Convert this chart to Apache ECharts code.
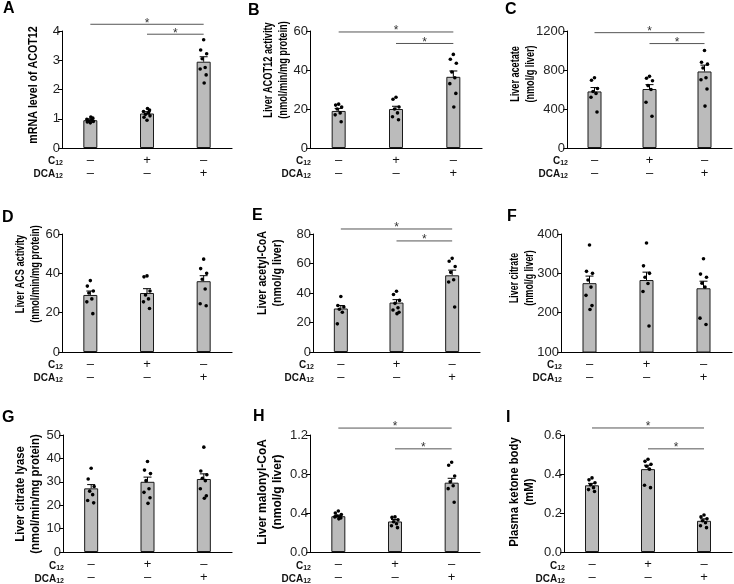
<!DOCTYPE html>
<html><head><meta charset="utf-8">
<script src="https://cdn.jsdelivr.net/npm/echarts@6/dist/echarts.min.js"></script>
<style>html,body{margin:0;padding:0;background:#fff}#c{width:734px;height:584px}</style>
</head><body><div id="c"></div>
<script>
// ---------- data ----------
const categories = ['Control', 'C12', 'DCA12'];
const c12Signs = ['–', '+', '–'];
const dca12Signs = ['–', '–', '+'];

// A: mRNA level of ACOT12
const meanA = [0.95, 1.18, 2.95];
const semA = [0.05, 0.06, 0.17];
const dotsA = [[0.86, 0.89, 0.91, 0.93, 0.95, 0.98, 1.02, 1.06], [0.95, 1.05, 1.1, 1.15, 1.2, 1.25, 1.3, 1.35], [3.7, 3.35, 3.22, 3.05, 2.75, 2.7, 2.5, 2.22]];
const sigA = [[0, 4.23, 2], [1, 3.89, 2]];
const ticksA = [0, 1, 2, 3, 4];

// B: Liver ACOT12 activity
const meanB = [19, 20, 36.5];
const semB = [1.3, 1.4, 3.0];
const dotsB = [[22.5, 22, 21, 20, 18, 17, 13.5], [26, 25, 21, 20, 18, 16, 14.5], [48, 45.5, 43.5, 39, 36, 33, 28, 21]];
const sigB = [[0, 59.5, 2], [1, 53.6, 2]];
const ticksB = [0, 20, 40, 60];

// C: Liver acetate
const meanC = [580, 605, 785];
const semC = [40, 45, 65];
const dotsC = [[720, 695, 610, 580, 560, 520, 370], [735, 715, 690, 640, 600, 470, 325], [1000, 880, 860, 820, 720, 700, 605, 430]];
const sigC = [[0, 1183, 2], [1, 1071, 2]];
const ticksC = [0, 400, 800, 1200];

// D: Liver ACS activity
const meanD = [29, 30, 36];
const semD = [2, 2.2, 2.8];
const dotsD = [[36.3, 33.5, 31, 30, 27, 25.5, 19.5], [38.7, 38.2, 31, 29, 27, 25.5, 22.1], [47.2, 42.4, 40, 37, 32, 24.5, 23.5]];
const sigD = [];
const ticksD = [0, 20, 40, 60];

// E: Liver acetyl-CoA
const meanE = [29.5, 33.5, 52];
const semE = [2, 2, 3.5];
const dotsE = [[37.6, 31.5, 30.5, 29, 27, 19.1], [41.2, 39, 35, 33, 30, 28.5, 27, 26], [63.5, 61.5, 58, 54, 49, 47.5, 30.5]];
const sigE = [[0, 83.4, 2], [1, 75.3, 2]];
const ticksE = [0, 20, 40, 60, 80];

// F: Liver citrate
const meanF = [275, 283, 262];
const semF = [18, 20, 18];
const dotsF = [[372, 305, 300, 283, 265, 244, 218, 208], [377, 319, 300, 290, 274, 254, 166], [337, 298, 290, 275, 265, 186, 170]];
const sigF = [];
const ticksF = [100, 200, 300, 400];

// G: Liver citrate lyase
const meanG = [27.2, 30, 31.2];
const semG = [1.6, 2, 2.2];
const dotsG = [[35.8, 31.2, 28, 26, 24.5, 22, 21], [38.7, 35, 33.5, 30.5, 27, 25.5, 23.2, 20.8], [44.8, 34.6, 33, 31.5, 30.5, 27, 24, 23]];
const sigG = [];
const ticksG = [0, 10, 20, 30, 40, 50];

// H: Liver malonyl-CoA
const meanH = [0.367, 0.313, 0.711];
const semH = [0.012, 0.02, 0.045];
const dotsH = [[0.42, 0.40, 0.385, 0.37, 0.36, 0.36, 0.35, 0.34], [0.36, 0.355, 0.33, 0.31, 0.29, 0.27, 0.25], [0.92, 0.89, 0.78, 0.72, 0.68, 0.65, 0.51]];
const sigH = [[0, 1.271, 2], [1, 1.058, 2]];
const ticksH = [0, 0.4, 0.8, 1.2];

// I: Plasma ketone body
const meanI = [0.342, 0.425, 0.16];
const semI = [0.01, 0.02, 0.01];
const dotsI = [[0.38, 0.37, 0.355, 0.345, 0.33, 0.32, 0.31], [0.476, 0.465, 0.45, 0.44, 0.425, 0.342, 0.33], [0.19, 0.18, 0.17, 0.16, 0.15, 0.135, 0.125]];
const sigI = [[0, 0.636, 2], [1, 0.529, 2]];
const ticksI = [0, 0.2, 0.4, 0.6];

const panels = [
  {letter: 'A', title: ['mRNA level of ACOT12'], mean: meanA, sem: semA, dots: dotsA, sig: sigA, ticks: ticksA, dec: 0},
  {letter: 'B', title: ['Liver ACOT12 activity', '(nmol/min/mg protein)'], mean: meanB, sem: semB, dots: dotsB, sig: sigB, ticks: ticksB, dec: 0},
  {letter: 'C', title: ['Liver acetate', '(nmol/g liver)'], mean: meanC, sem: semC, dots: dotsC, sig: sigC, ticks: ticksC, dec: 0},
  {letter: 'D', title: ['Liver ACS activity', '(nmol/min/mg protein)'], mean: meanD, sem: semD, dots: dotsD, sig: sigD, ticks: ticksD, dec: 0},
  {letter: 'E', title: ['Liver acetyl-CoA', '(nmol/g liver)'], mean: meanE, sem: semE, dots: dotsE, sig: sigE, ticks: ticksE, dec: 0},
  {letter: 'F', title: ['Liver citrate', '(nmol/g liver)'], mean: meanF, sem: semF, dots: dotsF, sig: sigF, ticks: ticksF, dec: 0},
  {letter: 'G', title: ['Liver citrate lyase', '(nmol/min/mg protein)'], mean: meanG, sem: semG, dots: dotsG, sig: sigG, ticks: ticksG, dec: 0},
  {letter: 'H', title: ['Liver malonyl-CoA', '(nmol/g liver)'], mean: meanH, sem: semH, dots: dotsH, sig: sigH, ticks: ticksH, dec: 1},
  {letter: 'I', title: ['Plasma ketone body', '(mM)'], mean: meanI, sem: semI, dots: dotsI, sig: sigI, ticks: ticksI, dec: 1}
];

// ---------- layout (positions / styles only) ----------
const layout = [
  {left: 62, top: 31, width: 170, height: 117, lx: 3, ly: 9, tx: 33, ty: 85, ts: 0.82},
  {left: 310, top: 31, width: 172, height: 117, lx: 248, ly: 11, tx: 276, ty: 70, ts: 0.71},
  {left: 567, top: 31, width: 165, height: 117, lx: 505, ly: 10, tx: 523, ty: 74, ts: 0.70},
  {left: 62, top: 234, width: 170, height: 118, lx: 2, ly: 218, tx: 28, ty: 274, ts: 0.71},
  {left: 313, top: 234, width: 167, height: 118, lx: 252, ly: 216, tx: 270, ty: 273, ts: 0.82},
  {left: 561, top: 234, width: 171, height: 118, lx: 507, ly: 217, tx: 522, ty: 278, ts: 0.68},
  {left: 63, top: 435, width: 169, height: 118, lx: 2, ly: 418, tx: 28, ty: 494, ts: 0.87},
  {left: 310, top: 435, width: 170, height: 118, lx: 253, ly: 417, tx: 270, ty: 492, ts: 0.92},
  {left: 564, top: 435, width: 168, height: 118, lx: 506, ly: 418, tx: 522, ty: 492, ts: 0.87}
];
const jitter = [0, -3, 3, -1.5, 1.5, -3.5, 2.5, 0.5];
const FONT = 'Liberation Sans, Arial, Helvetica, sans-serif';

const grid = [], xAxis = [], yAxis = [], series = [], graphic = [];

panels.forEach((p, k) => {
  const L = layout[k];
  grid.push({left: L.left, top: L.top, width: L.width, height: L.height, containLabel: false});
  xAxis.push({
    type: 'category', gridIndex: k, data: categories,
    axisLine: {lineStyle: {color: '#000', width: 1.2}},
    axisTick: {show: false},
    axisLabel: {
      margin: 6, interval: 0,
      formatter: (v, idx) => '{s|' + c12Signs[idx] + '}\n{s|' + dca12Signs[idx] + '}',
      rich: {s: {fontSize: 13, lineHeight: 13, color: '#111', fontFamily: FONT}}
    }
  });
  const tks = p.ticks;
  yAxis.push({
    type: 'value', gridIndex: k,
    min: tks[0], max: tks[tks.length - 1], interval: tks[1] - tks[0],
    axisLine: {show: true, lineStyle: {color: '#000', width: 1}},
    axisTick: {show: true, length: 4, lineStyle: {color: '#000'}},
    splitLine: {show: false},
    axisLabel: {fontSize: 13, color: '#222', margin: 2, fontFamily: FONT,
      formatter: v => v.toFixed(p.dec)}
  });
  series.push({
    type: 'bar', xAxisIndex: k, yAxisIndex: k, data: p.mean, barWidth: 14, z: 2,
    itemStyle: {color: '#bbbbbb', borderColor: '#1a1a1a', borderWidth: 1}, silent: true
  });
  series.push({
    type: 'custom', xAxisIndex: k, yAxisIndex: k, z: 3, silent: true,
    data: p.mean.map((m, i) => [i, m, m + p.sem[i]]),
    renderItem: (params, api) => {
      const x = api.value(0);
      const p0 = api.coord([x, api.value(1)]);
      const p1 = api.coord([x, api.value(2)]);
      return {type: 'group', children: [
        {type: 'line', shape: {x1: p0[0], y1: p0[1], x2: p1[0], y2: p1[1]}, style: {stroke: '#000', lineWidth: 1}},
        {type: 'line', shape: {x1: p1[0] - 4, y1: p1[1], x2: p1[0] + 4, y2: p1[1]}, style: {stroke: '#000', lineWidth: 1}}
      ]};
    }
  });
  const dotData = [];
  p.dots.forEach((arr, i) => arr.forEach((v, j) => dotData.push([i, v, j])));
  series.push({
    type: 'custom', xAxisIndex: k, yAxisIndex: k, z: 4, silent: true,
    data: dotData,
    renderItem: (params, api) => {
      const c = api.coord([api.value(0), api.value(1)]);
      const dx = jitter[api.value(2) % jitter.length];
      return {type: 'circle', shape: {cx: c[0] + dx, cy: c[1], r: 1.8}, style: {fill: '#000'}};
    }
  });
  if (p.sig.length) {
    series.push({
      type: 'custom', xAxisIndex: k, yAxisIndex: k, z: 5, silent: true, clip: false,
      data: p.sig,
      renderItem: (params, api) => {
        const a = api.coord([api.value(0), api.value(1)]);
        const b = api.coord([api.value(2), api.value(1)]);
        return {type: 'group', children: [
          {type: 'line', shape: {x1: a[0], y1: a[1], x2: b[0], y2: b[1]}, style: {stroke: '#555', lineWidth: 1}},
          {type: 'text', x: (a[0] + b[0]) / 2, y: a[1] - 1,
           style: {text: '*', fontSize: 12, fill: '#333', align: 'center', verticalAlign: 'middle', fontFamily: FONT}}
        ]};
      }
    });
  }
  // panel letter
  graphic.push({type: 'text', x: L.lx, y: L.ly,
    style: {text: p.letter, fontSize: 16, fontWeight: 'bold', fill: '#000', align: 'left', verticalAlign: 'middle', fontFamily: FONT}});
  // y-axis title
  graphic.push({type: 'text', x: L.tx, y: L.ty, rotation: Math.PI / 2, scaleX: L.ts, scaleY: 1,
    style: {text: p.title.join('\n'), fontSize: 13, fontWeight: 'bold', lineHeight: 15, fill: '#000',
      align: 'center', verticalAlign: 'middle', fontFamily: FONT}});
  // row labels
  const bottom = L.top + L.height;
  const rich = {
    b: {fontSize: 10, fontWeight: 'bold', fill: '#111', fontFamily: FONT},
    sub: {fontSize: 7, fontWeight: 'bold', fill: '#111', fontFamily: FONT, padding: [4, 0, 0, 0]}
  };
  graphic.push({type: 'text', x: L.left + 1, y: bottom + 13,
    style: {text: '{b|C}{sub|12}', rich, align: 'right', verticalAlign: 'middle'}});
  graphic.push({type: 'text', x: L.left + 1, y: bottom + 26,
    style: {text: '{b|DCA}{sub|12}', rich, align: 'right', verticalAlign: 'middle'}});
});

const chart = echarts.init(document.getElementById('c'), null, {renderer: 'canvas'});
chart.setOption({
  backgroundColor: '#fff',
  animation: false,
  textStyle: {fontFamily: FONT},
  grid, xAxis, yAxis, series, graphic
});
</script>
</body></html>
